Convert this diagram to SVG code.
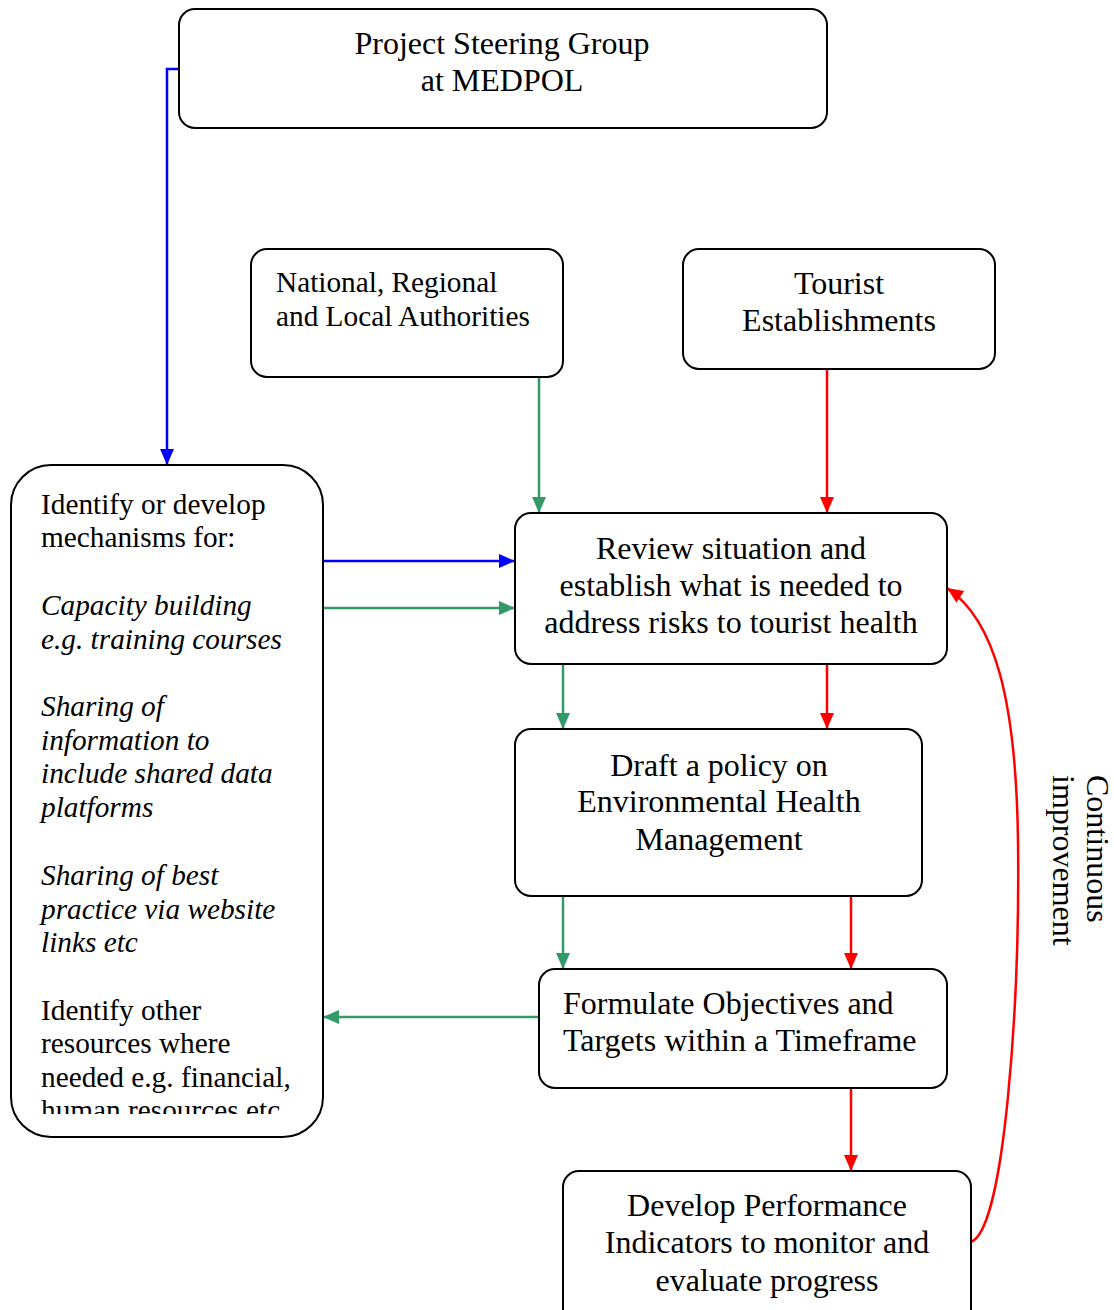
<svg xmlns="http://www.w3.org/2000/svg" width="1114" height="1310" viewBox="0 0 1114 1310">
<style>
.box{fill:#fff;stroke:#000;stroke-width:2}
.t{font-family:"Liberation Serif","Times New Roman",serif;fill:#000}
.l{font-size:32px}
.s{font-size:29.3px}
.c{text-anchor:middle}
.i{font-style:italic}
.b{stroke:#0000ff;stroke-width:2.5;fill:none}
.g{stroke:#339966;stroke-width:2.5;fill:none}
.r{stroke:#ff0000;stroke-width:2.5;fill:none}
</style>
<defs>
<marker id="ab" markerUnits="userSpaceOnUse" markerWidth="16" markerHeight="16" viewBox="0 0 16 16" refX="16" refY="8" orient="auto"><path d="M0,1 L16,8 L0,15 Z" fill="#0000ff"/></marker>
<marker id="ag" markerUnits="userSpaceOnUse" markerWidth="16" markerHeight="16" viewBox="0 0 16 16" refX="16" refY="8" orient="auto"><path d="M0,1 L16,8 L0,15 Z" fill="#339966"/></marker>
<marker id="ar" markerUnits="userSpaceOnUse" markerWidth="16" markerHeight="16" viewBox="0 0 16 16" refX="16" refY="8" orient="auto"><path d="M0,1 L16,8 L0,15 Z" fill="#ff0000"/></marker>
<clipPath id="clipLeft"><rect x="11" y="465" width="312" height="649"/></clipPath>
</defs>

<g id="connectors">
<path class="b" d="M179,69 H167 V465" marker-end="url(#ab)"/>
<path class="g" d="M539,377 V513" marker-end="url(#ag)"/>
<path class="r" d="M827,369 V513" marker-end="url(#ar)"/>
<path class="b" d="M323,561 H515" marker-end="url(#ab)"/>
<path class="g" d="M323,608 H515" marker-end="url(#ag)"/>
<path class="g" d="M563,664 V729" marker-end="url(#ag)"/>
<path class="r" d="M827,664 V729" marker-end="url(#ar)"/>
<path class="g" d="M563,896 V969" marker-end="url(#ag)"/>
<path class="r" d="M851,896 V969" marker-end="url(#ar)"/>
<path class="g" d="M539,1017 H323" marker-end="url(#ag)"/>
<path class="r" d="M851,1088 V1171" marker-end="url(#ar)"/>
<path class="r" d="M971,1242 C1005,1230 1020,1000 1018,840 C1016,700 995,620 947,588" marker-end="url(#ar)"/>
</g>

<g id="psg">
<rect class="box" x="179" y="9" width="648" height="119" rx="16"/>
<text class="t l c" x="502" y="54">Project Steering Group</text>
<text class="t l c" x="502" y="91">at MEDPOL</text>
</g>

<g id="authorities">
<rect class="box" x="251" y="249" width="312" height="128" rx="16"/>
<text class="t s" x="276" y="292">National, Regional</text>
<text class="t s" x="276" y="326">and Local Authorities</text>
</g>

<g id="tourist">
<rect class="box" x="683" y="249" width="312" height="120" rx="16"/>
<text class="t l c" x="839" y="294">Tourist</text>
<text class="t l c" x="839" y="331">Establishments</text>
</g>

<g id="mechanisms">
<rect class="box" x="11" y="465" width="312" height="672" rx="40"/>
<g clip-path="url(#clipLeft)">
<text class="t s" x="41" y="514">Identify or develop</text>
<text class="t s" x="41" y="547">mechanisms for:</text>
<text class="t s i" x="41" y="615">Capacity building</text>
<text class="t s i" x="41" y="649">e.g. training courses</text>
<text class="t s i" x="41" y="716">Sharing of</text>
<text class="t s i" x="41" y="750">information to</text>
<text class="t s i" x="41" y="783">include shared data</text>
<text class="t s i" x="41" y="817">platforms</text>
<text class="t s i" x="41" y="885">Sharing of best</text>
<text class="t s i" x="41" y="919">practice via website</text>
<text class="t s i" x="41" y="952">links etc</text>
<text class="t s" x="41" y="1020">Identify other</text>
<text class="t s" x="41" y="1053">resources where</text>
<text class="t s" x="41" y="1087">needed e.g. financial,</text>
<text class="t s" x="41" y="1120">human resources etc</text>
</g>
</g>

<g id="review">
<rect class="box" x="515" y="513" width="432" height="151" rx="16"/>
<text class="t l c" x="731" y="559">Review situation and</text>
<text class="t l c" x="731" y="596">establish what is needed to</text>
<text class="t l c" x="731" y="633">address risks to tourist health</text>
</g>

<g id="draft">
<rect class="box" x="515" y="729" width="407" height="167" rx="16"/>
<text class="t l c" x="719" y="776">Draft a policy on</text>
<text class="t l c" x="719" y="812">Environmental Health</text>
<text class="t l c" x="719" y="850">Management</text>
</g>

<g id="formulate">
<rect class="box" x="539" y="969" width="408" height="119" rx="16"/>
<text class="t l" x="563" y="1014">Formulate Objectives and</text>
<text class="t l" x="563" y="1051">Targets within a Timeframe</text>
</g>

<g id="develop">
<rect class="box" x="563" y="1171" width="408" height="160" rx="16"/>
<text class="t l c" x="767" y="1216">Develop Performance</text>
<text class="t l c" x="767" y="1253">Indicators to monitor and</text>
<text class="t l c" x="767" y="1291">evaluate progress</text>
</g>

<g id="continuous-label">
<text class="t l" transform="translate(1087,775) rotate(90)" x="0" y="0">Continuous</text>
<text class="t l" transform="translate(1053,775) rotate(90)" x="0" y="0">improvement</text>
</g>
</svg>
